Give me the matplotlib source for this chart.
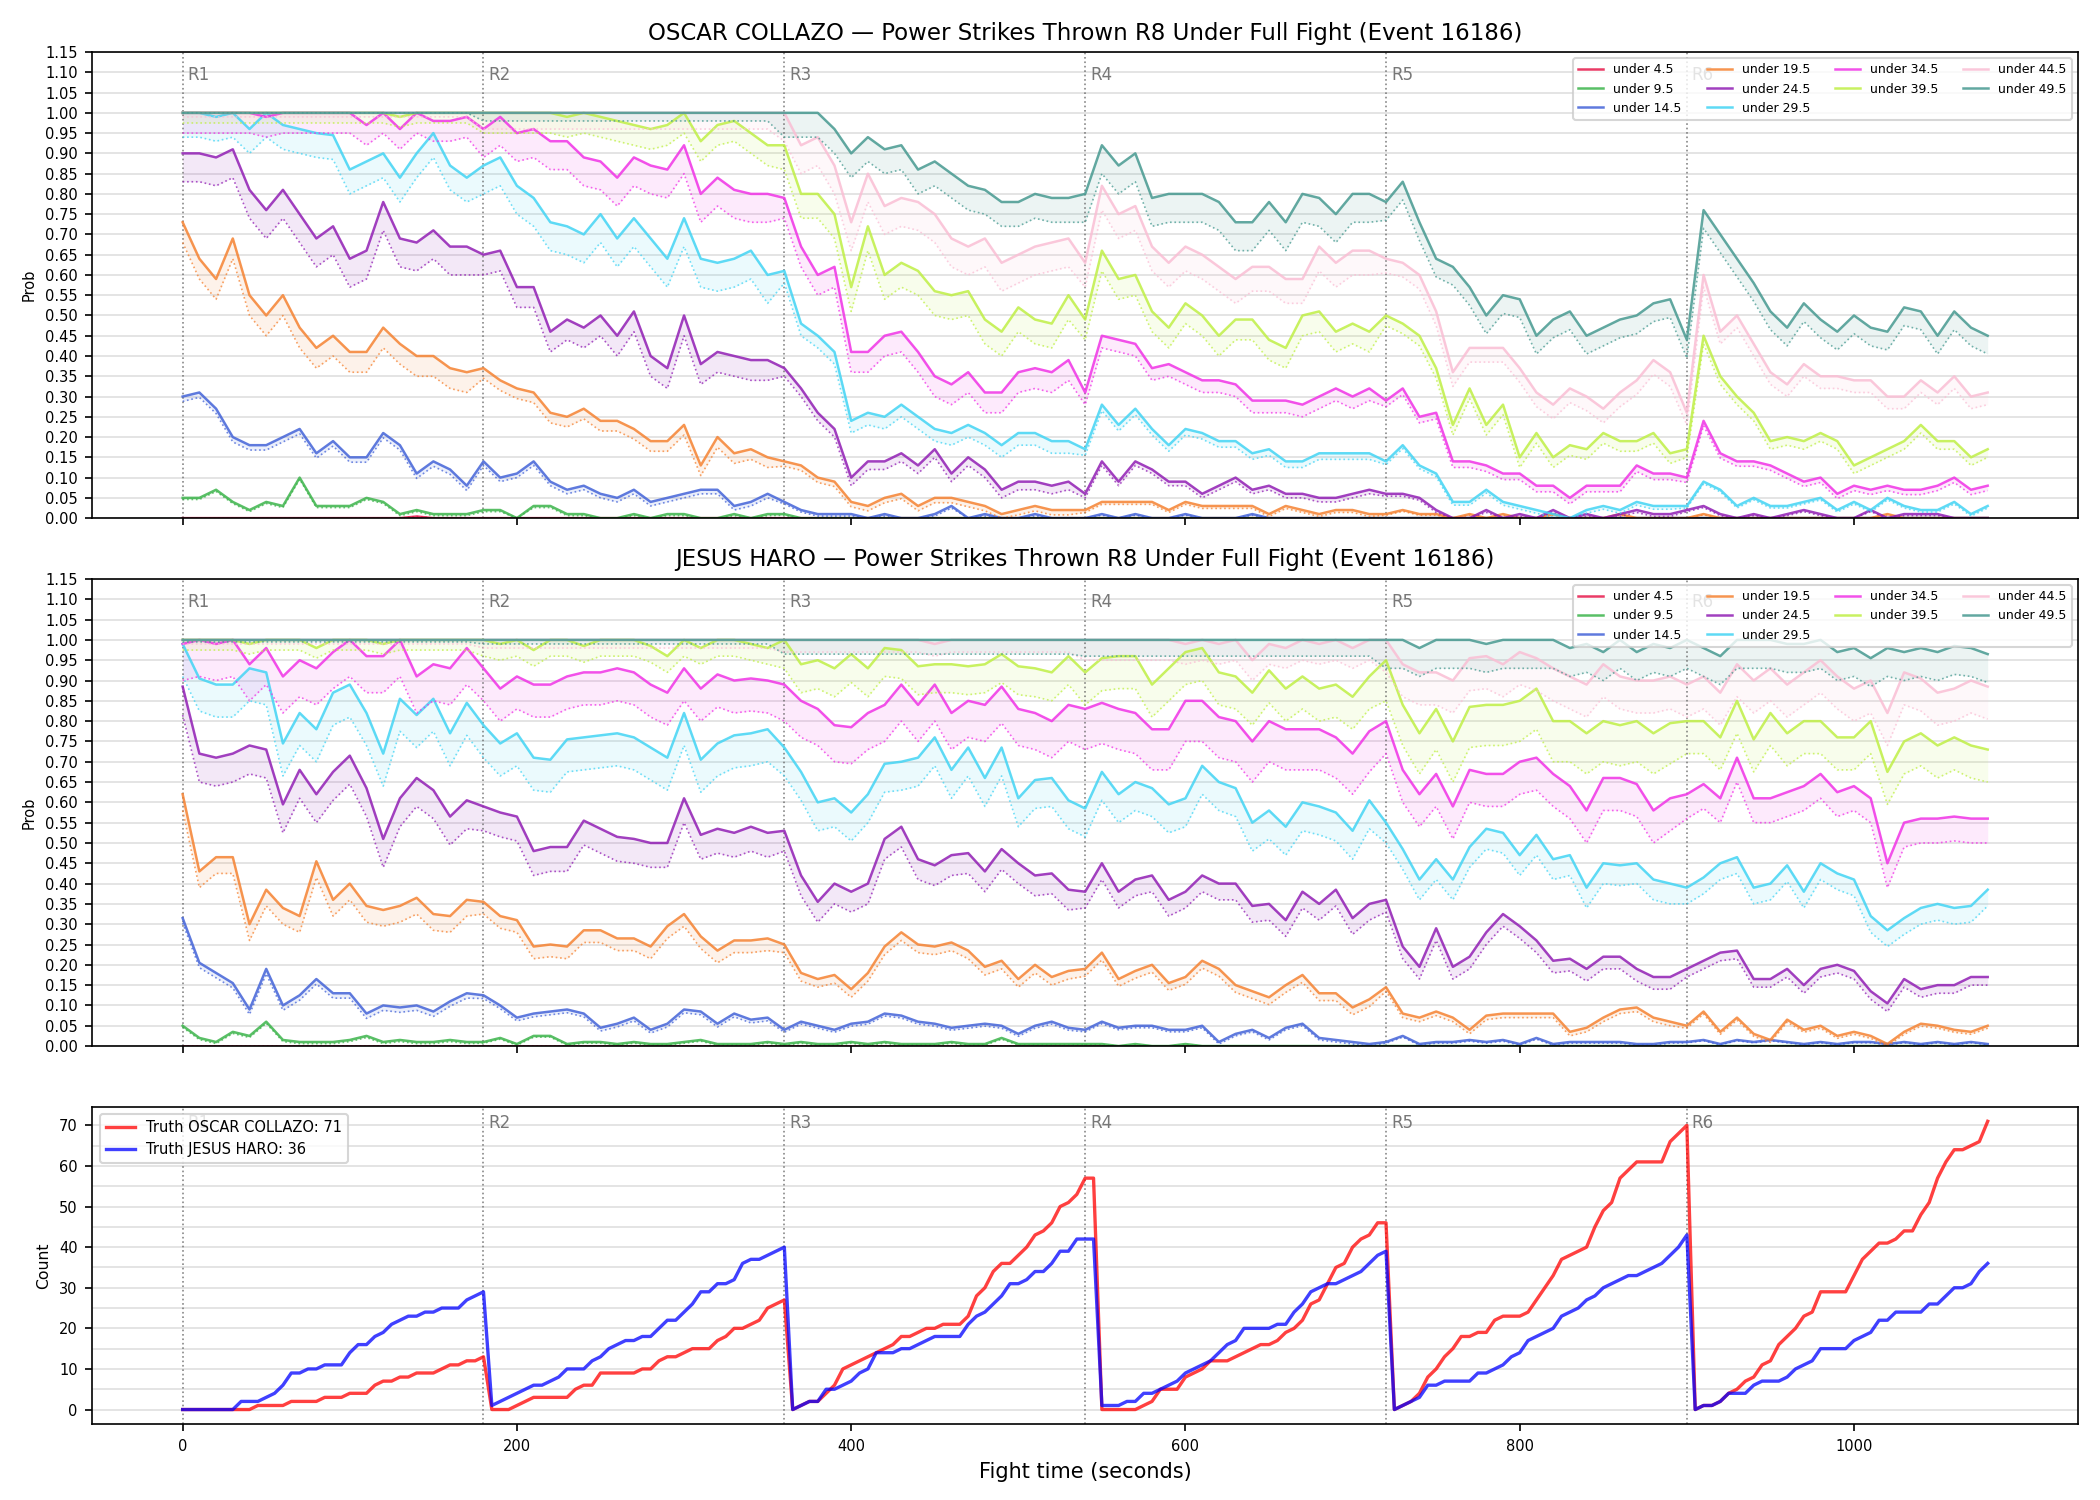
import numpy as np
import matplotlib
matplotlib.use("Agg")
import matplotlib.pyplot as plt
import matplotlib.transforms as mtransforms
from matplotlib.ticker import MultipleLocator, FormatStrFormatter

# ------------------------------------------------------------------ data
prob_time = list(range(0, 1081, 10))      # sample every 10 s
count_time = list(range(0, 1081, 5))      # sample every 5 s
round_starts = [0, 180, 360, 540, 720, 900]
round_names = ["R1", "R2", "R3", "R4", "R5", "R6"]
thresholds = ["under 4.5", "under 9.5", "under 14.5", "under 19.5", "under 24.5",
              "under 29.5", "under 34.5", "under 39.5", "under 44.5", "under 49.5"]
threshold_colors = ["#e6194b", "#3cb44b", "#4363d8", "#f58231", "#911eb4",
                    "#42d4f4", "#f032e6", "#bfef45", "#fabed4", "#469990"]

# ---- OSCAR COLLAZO probabilities (rows = rounds R1..R6, last value t=1080)
c_under_4_5 = [
    0, 0, 0, 0, 0, 0, 0, 0, 0, 0, 0, 0, 0, 0, 0.004, 0, 0, 0,
    0, 0, 0, 0, 0, 0, 0, 0, 0, 0, 0, 0, 0, 0, 0, 0, 0, 0,
    0, 0, 0, 0, 0, 0, 0, 0, 0, 0, 0, 0, 0, 0, 0, 0, 0, 0,
    0, 0, 0, 0, 0, 0, 0, 0, 0, 0, 0, 0, 0, 0, 0, 0, 0, 0,
    0, 0, 0, 0, 0, 0, 0, 0, 0, 0, 0, 0, 0, 0, 0, 0, 0, 0,
    0, 0, 0, 0, 0, 0, 0, 0, 0, 0, 0, 0, 0, 0, 0, 0, 0, 0,
    0]
c_under_9_5 = [
    0.05, 0.05, 0.07, 0.04, 0.02, 0.04, 0.03, 0.10, 0.03, 0.03, 0.03, 0.05, 0.04, 0.01, 0.02, 0.01, 0.01, 0.01,
    0.02, 0.02, 0.00, 0.03, 0.03, 0.01, 0.01, 0.00, 0.00, 0.01, 0.00, 0.01, 0.01, 0.00, 0.00, 0.01, 0.00, 0.01,
    0.01, 0.00, 0.00, 0.00, 0.00, 0.00, 0.00, 0.00, 0.00, 0.00, 0.00, 0.00, 0.00, 0.00, 0.00, 0.00, 0.00, 0.00,
    0, 0, 0, 0, 0, 0, 0, 0, 0, 0, 0, 0, 0, 0, 0, 0, 0, 0,
    0, 0, 0, 0, 0, 0, 0, 0, 0, 0, 0, 0, 0, 0, 0, 0, 0, 0,
    0, 0, 0, 0, 0, 0, 0, 0, 0, 0, 0, 0, 0, 0, 0, 0, 0, 0,
    0]
c_under_14_5 = [
    0.30, 0.31, 0.27, 0.20, 0.18, 0.18, 0.20, 0.22, 0.16, 0.19, 0.15, 0.15, 0.21, 0.18, 0.11, 0.14, 0.12, 0.08,
    0.14, 0.10, 0.11, 0.14, 0.09, 0.07, 0.08, 0.06, 0.05, 0.07, 0.04, 0.05, 0.06, 0.07, 0.07, 0.03, 0.04, 0.06,
    0.04, 0.02, 0.01, 0.01, 0.01, 0.00, 0.01, 0.00, 0.00, 0.01, 0.03, 0.00, 0.01, 0.00, 0.00, 0.01, 0.00, 0.00,
    0.00, 0.01, 0.00, 0.01, 0.00, 0.00, 0.01, 0.00, 0.00, 0.00, 0.01, 0.00, 0.00, 0.00, 0.00, 0.00, 0.00, 0.00,
    0, 0, 0, 0, 0, 0, 0, 0, 0, 0, 0, 0, 0, 0, 0, 0, 0, 0,
    0, 0, 0, 0, 0, 0, 0, 0, 0, 0, 0, 0, 0, 0, 0, 0, 0, 0,
    0]
c_under_19_5 = [
    0.73, 0.64, 0.59, 0.69, 0.55, 0.50, 0.55, 0.47, 0.42, 0.45, 0.41, 0.41, 0.47, 0.43, 0.40, 0.40, 0.37, 0.36,
    0.37, 0.34, 0.32, 0.31, 0.26, 0.25, 0.27, 0.24, 0.24, 0.22, 0.19, 0.19, 0.23, 0.13, 0.20, 0.16, 0.17, 0.15,
    0.14, 0.13, 0.10, 0.09, 0.04, 0.03, 0.05, 0.06, 0.03, 0.05, 0.05, 0.04, 0.03, 0.01, 0.02, 0.03, 0.02, 0.02,
    0.02, 0.04, 0.04, 0.04, 0.04, 0.02, 0.04, 0.03, 0.03, 0.03, 0.03, 0.01, 0.03, 0.02, 0.01, 0.02, 0.02, 0.01,
    0.01, 0.02, 0.01, 0.01, 0.00, 0.01, 0.00, 0.01, 0.00, 0.00, 0.01, 0.00, 0.00, 0.00, 0.01, 0.00, 0.00, 0.00,
    0.00, 0.01, 0.00, 0.00, 0.00, 0.00, 0.00, 0.00, 0.00, 0.00, 0.00, 0.00, 0.01, 0.00, 0.00, 0.00, 0.00, 0.00,
    0.00]
c_under_24_5 = [
    0.90, 0.90, 0.89, 0.91, 0.81, 0.76, 0.81, 0.75, 0.69, 0.72, 0.64, 0.66, 0.78, 0.69, 0.68, 0.71, 0.67, 0.67,
    0.65, 0.66, 0.57, 0.57, 0.46, 0.49, 0.47, 0.50, 0.45, 0.51, 0.40, 0.37, 0.50, 0.38, 0.41, 0.40, 0.39, 0.39,
    0.37, 0.32, 0.26, 0.22, 0.10, 0.14, 0.14, 0.16, 0.13, 0.17, 0.11, 0.15, 0.12, 0.07, 0.09, 0.09, 0.08, 0.09,
    0.06, 0.14, 0.09, 0.14, 0.12, 0.09, 0.09, 0.06, 0.08, 0.10, 0.07, 0.08, 0.06, 0.06, 0.05, 0.05, 0.06, 0.07,
    0.06, 0.06, 0.05, 0.02, 0.00, 0.00, 0.02, 0.00, 0.01, 0.00, 0.02, 0.00, 0.01, 0.00, 0.01, 0.02, 0.01, 0.01,
    0.02, 0.03, 0.01, 0.00, 0.01, 0.00, 0.01, 0.02, 0.01, 0.00, 0.00, 0.02, 0.00, 0.01, 0.01, 0.01, 0.00, 0.00,
    0.00]
c_under_29_5 = [
    1.00, 1.00, 0.99, 1.00, 0.96, 1.00, 0.97, 0.96, 0.95, 0.945, 0.86, 0.88, 0.90, 0.84, 0.90, 0.95, 0.87, 0.84,
    0.87, 0.89, 0.82, 0.79, 0.73, 0.72, 0.70, 0.75, 0.69, 0.74, 0.69, 0.64, 0.74, 0.64, 0.63, 0.64, 0.66, 0.60,
    0.61, 0.48, 0.45, 0.41, 0.24, 0.26, 0.25, 0.28, 0.25, 0.22, 0.21, 0.23, 0.21, 0.18, 0.21, 0.21, 0.19, 0.19,
    0.17, 0.28, 0.23, 0.27, 0.22, 0.18, 0.22, 0.21, 0.19, 0.19, 0.16, 0.17, 0.14, 0.14, 0.16, 0.16, 0.16, 0.16,
    0.14, 0.18, 0.13, 0.11, 0.04, 0.04, 0.07, 0.04, 0.03, 0.02, 0.01, 0.00, 0.02, 0.03, 0.02, 0.04, 0.03, 0.03,
    0.03, 0.09, 0.07, 0.03, 0.05, 0.03, 0.03, 0.04, 0.05, 0.02, 0.04, 0.02, 0.05, 0.03, 0.02, 0.02, 0.04, 0.01,
    0.03]
c_under_34_5 = [
    1.00, 1.00, 1.00, 1.00, 1.00, 0.99, 1.00, 1.00, 1.00, 1.00, 1.00, 0.97, 1.00, 0.96, 1.00, 0.98, 0.98, 0.99,
    0.96, 0.99, 0.95, 0.96, 0.93, 0.93, 0.89, 0.88, 0.84, 0.89, 0.87, 0.86, 0.92, 0.80, 0.84, 0.81, 0.80, 0.80,
    0.79, 0.67, 0.60, 0.62, 0.41, 0.41, 0.45, 0.46, 0.41, 0.35, 0.33, 0.36, 0.31, 0.31, 0.36, 0.37, 0.36, 0.39,
    0.31, 0.45, 0.44, 0.43, 0.37, 0.38, 0.36, 0.34, 0.34, 0.33, 0.29, 0.29, 0.29, 0.28, 0.30, 0.32, 0.30, 0.32,
    0.29, 0.32, 0.25, 0.26, 0.14, 0.14, 0.13, 0.11, 0.11, 0.08, 0.08, 0.05, 0.08, 0.08, 0.08, 0.13, 0.11, 0.11,
    0.10, 0.24, 0.16, 0.14, 0.14, 0.13, 0.11, 0.09, 0.10, 0.06, 0.08, 0.07, 0.08, 0.07, 0.07, 0.08, 0.10, 0.07,
    0.08]
c_under_39_5 = [
    1.00, 1.00, 1.00, 1.00, 1.00, 1.00, 1.00, 1.00, 1.00, 1.00, 1.00, 1.00, 1.00, 0.99, 1.00, 1.00, 1.00, 1.00,
    1.00, 1.00, 1.00, 1.00, 1.00, 0.99, 1.00, 0.99, 0.98, 0.97, 0.96, 0.97, 1.00, 0.93, 0.97, 0.98, 0.95, 0.92,
    0.92, 0.80, 0.80, 0.75, 0.57, 0.72, 0.60, 0.63, 0.61, 0.56, 0.55, 0.56, 0.49, 0.46, 0.52, 0.49, 0.48, 0.55,
    0.49, 0.66, 0.59, 0.60, 0.51, 0.47, 0.53, 0.50, 0.45, 0.49, 0.49, 0.44, 0.42, 0.50, 0.51, 0.46, 0.48, 0.46,
    0.50, 0.48, 0.45, 0.37, 0.23, 0.32, 0.23, 0.28, 0.15, 0.21, 0.15, 0.18, 0.17, 0.21, 0.19, 0.19, 0.21, 0.16,
    0.17, 0.45, 0.35, 0.30, 0.26, 0.19, 0.20, 0.19, 0.21, 0.19, 0.13, 0.15, 0.17, 0.19, 0.23, 0.19, 0.19, 0.15,
    0.17]
c_under_44_5 = [
    1.00, 1.00, 1.00, 1.00, 1.00, 1.00, 1.00, 1.00, 1.00, 1.00, 1.00, 1.00, 1.00, 1.00, 1.00, 1.00, 1.00, 1.00,
    1.00, 1.00, 1.00, 1.00, 1.00, 1.00, 1.00, 1.00, 1.00, 1.00, 1.00, 1.00, 1.00, 1.00, 1.00, 1.00, 1.00, 1.00,
    1.00, 0.92, 0.94, 0.87, 0.73, 0.85, 0.77, 0.79, 0.78, 0.75, 0.69, 0.67, 0.69, 0.63, 0.65, 0.67, 0.68, 0.69,
    0.63, 0.82, 0.75, 0.77, 0.67, 0.63, 0.67, 0.65, 0.62, 0.59, 0.62, 0.62, 0.59, 0.59, 0.67, 0.63, 0.66, 0.66,
    0.64, 0.63, 0.60, 0.51, 0.36, 0.42, 0.42, 0.42, 0.37, 0.31, 0.28, 0.32, 0.30, 0.27, 0.31, 0.34, 0.39, 0.36,
    0.26, 0.60, 0.46, 0.50, 0.43, 0.36, 0.33, 0.38, 0.35, 0.35, 0.34, 0.34, 0.30, 0.30, 0.34, 0.31, 0.35, 0.30,
    0.31]
c_under_49_5 = [
    1.00, 1.00, 1.00, 1.00, 1.00, 1.00, 1.00, 1.00, 1.00, 1.00, 1.00, 1.00, 1.00, 1.00, 1.00, 1.00, 1.00, 1.00,
    1.00, 1.00, 1.00, 1.00, 1.00, 1.00, 1.00, 1.00, 1.00, 1.00, 1.00, 1.00, 1.00, 1.00, 1.00, 1.00, 1.00, 1.00,
    1.00, 1.00, 1.00, 0.96, 0.90, 0.94, 0.91, 0.92, 0.86, 0.88, 0.85, 0.82, 0.81, 0.78, 0.78, 0.80, 0.79, 0.79,
    0.80, 0.92, 0.87, 0.90, 0.79, 0.80, 0.80, 0.80, 0.78, 0.73, 0.73, 0.78, 0.73, 0.80, 0.79, 0.75, 0.80, 0.80,
    0.78, 0.83, 0.73, 0.64, 0.62, 0.57, 0.50, 0.55, 0.54, 0.45, 0.49, 0.51, 0.45, 0.47, 0.49, 0.50, 0.53, 0.54,
    0.44, 0.76, 0.70, 0.64, 0.58, 0.51, 0.47, 0.53, 0.49, 0.46, 0.50, 0.47, 0.46, 0.52, 0.51, 0.45, 0.51, 0.47,
    0.45]

# ---- JESUS HARO probabilities
h_under_4_5 = [
    0, 0, 0, 0, 0, 0, 0, 0, 0, 0, 0, 0, 0, 0, 0, 0, 0, 0,
    0, 0, 0, 0, 0, 0, 0, 0, 0, 0, 0, 0, 0, 0, 0, 0, 0, 0,
    0, 0, 0, 0, 0, 0, 0, 0, 0, 0, 0, 0, 0, 0, 0, 0, 0, 0,
    0, 0, 0, 0, 0, 0, 0, 0, 0, 0, 0, 0, 0, 0, 0, 0, 0, 0,
    0, 0, 0, 0, 0, 0, 0, 0, 0, 0, 0, 0, 0, 0, 0, 0, 0, 0,
    0, 0, 0, 0, 0, 0, 0, 0, 0, 0, 0, 0, 0, 0, 0, 0, 0, 0,
    0]
h_under_9_5 = [
    0.05, 0.02, 0.01, 0.035, 0.025, 0.06, 0.015, 0.01, 0.01, 0.01, 0.015, 0.025, 0.01, 0.015, 0.01, 0.01, 0.015, 0.01,
    0.01, 0.02, 0.005, 0.025, 0.025, 0.005, 0.01, 0.01, 0.005, 0.01, 0.005, 0.005, 0.01, 0.015, 0.005, 0.005, 0.005, 0.01,
    0.005, 0.01, 0.005, 0.005, 0.01, 0.005, 0.01, 0.005, 0.005, 0.005, 0.01, 0.005, 0.005, 0.02, 0.005, 0.005, 0.005, 0.005,
    0.005, 0.005, 0, 0.005, 0, 0, 0.005, 0, 0, 0, 0, 0, 0, 0, 0, 0, 0, 0,
    0, 0, 0, 0, 0, 0, 0, 0, 0, 0, 0, 0, 0, 0, 0, 0, 0, 0,
    0, 0, 0, 0, 0, 0, 0, 0, 0, 0, 0, 0, 0, 0, 0, 0, 0, 0,
    0]
h_under_14_5 = [
    0.315, 0.205, 0.18, 0.155, 0.09, 0.19, 0.10, 0.125, 0.165, 0.13, 0.13, 0.08, 0.10, 0.095, 0.10, 0.085, 0.11, 0.13,
    0.125, 0.10, 0.07, 0.08, 0.085, 0.09, 0.08, 0.045, 0.055, 0.07, 0.04, 0.055, 0.09, 0.085, 0.055, 0.08, 0.065, 0.07,
    0.04, 0.06, 0.05, 0.04, 0.055, 0.06, 0.08, 0.075, 0.06, 0.055, 0.045, 0.05, 0.055, 0.05, 0.03, 0.05, 0.06, 0.045,
    0.04, 0.06, 0.045, 0.05, 0.05, 0.04, 0.04, 0.05, 0.01, 0.03, 0.04, 0.02, 0.045, 0.055, 0.02, 0.015, 0.01, 0.005,
    0.01, 0.025, 0.005, 0.01, 0.01, 0.015, 0.01, 0.015, 0.005, 0.02, 0.005, 0.01, 0.01, 0.01, 0.01, 0.005, 0.005, 0.01,
    0.01, 0.015, 0.005, 0.015, 0.01, 0.015, 0.01, 0.005, 0.01, 0.005, 0.01, 0.01, 0.005, 0.01, 0.005, 0.01, 0.005, 0.01,
    0.005]
h_under_19_5 = [
    0.62, 0.43, 0.465, 0.465, 0.30, 0.385, 0.34, 0.32, 0.455, 0.36, 0.40, 0.345, 0.335, 0.345, 0.365, 0.325, 0.32, 0.36,
    0.355, 0.32, 0.31, 0.245, 0.25, 0.245, 0.285, 0.285, 0.265, 0.265, 0.245, 0.295, 0.325, 0.27, 0.235, 0.26, 0.26, 0.265,
    0.25, 0.18, 0.165, 0.175, 0.14, 0.18, 0.245, 0.28, 0.25, 0.245, 0.255, 0.235, 0.195, 0.21, 0.165, 0.20, 0.17, 0.185,
    0.19, 0.23, 0.165, 0.185, 0.20, 0.155, 0.17, 0.21, 0.19, 0.15, 0.135, 0.12, 0.15, 0.175, 0.13, 0.13, 0.095, 0.115,
    0.145, 0.08, 0.07, 0.085, 0.07, 0.04, 0.075, 0.08, 0.08, 0.08, 0.08, 0.035, 0.045, 0.07, 0.09, 0.095, 0.07, 0.06,
    0.05, 0.085, 0.035, 0.07, 0.03, 0.015, 0.065, 0.04, 0.05, 0.025, 0.035, 0.025, 0.005, 0.035, 0.055, 0.05, 0.04, 0.035,
    0.05]
h_under_24_5 = [
    0.885, 0.72, 0.71, 0.72, 0.74, 0.73, 0.595, 0.68, 0.62, 0.675, 0.715, 0.635, 0.51, 0.61, 0.66, 0.63, 0.565, 0.605,
    0.59, 0.575, 0.565, 0.48, 0.49, 0.49, 0.555, 0.535, 0.515, 0.51, 0.50, 0.50, 0.61, 0.52, 0.535, 0.525, 0.54, 0.525,
    0.53, 0.42, 0.355, 0.40, 0.38, 0.40, 0.51, 0.54, 0.46, 0.445, 0.47, 0.475, 0.43, 0.485, 0.45, 0.42, 0.425, 0.385,
    0.38, 0.45, 0.38, 0.41, 0.42, 0.36, 0.38, 0.42, 0.40, 0.40, 0.345, 0.35, 0.31, 0.38, 0.35, 0.385, 0.315, 0.35,
    0.36, 0.245, 0.195, 0.29, 0.195, 0.22, 0.28, 0.325, 0.295, 0.26, 0.21, 0.215, 0.19, 0.22, 0.22, 0.19, 0.17, 0.17,
    0.19, 0.21, 0.23, 0.235, 0.165, 0.165, 0.19, 0.15, 0.19, 0.20, 0.185, 0.135, 0.105, 0.165, 0.14, 0.15, 0.15, 0.17,
    0.17]
h_under_29_5 = [
    0.99, 0.905, 0.89, 0.89, 0.93, 0.92, 0.745, 0.82, 0.78, 0.87, 0.89, 0.82, 0.72, 0.855, 0.815, 0.855, 0.77, 0.845,
    0.79, 0.745, 0.77, 0.71, 0.705, 0.755, 0.76, 0.765, 0.77, 0.76, 0.735, 0.71, 0.82, 0.705, 0.745, 0.765, 0.77, 0.78,
    0.735, 0.675, 0.60, 0.61, 0.575, 0.62, 0.695, 0.70, 0.71, 0.76, 0.68, 0.735, 0.66, 0.735, 0.61, 0.655, 0.66, 0.605,
    0.585, 0.675, 0.62, 0.65, 0.635, 0.595, 0.61, 0.69, 0.65, 0.635, 0.55, 0.58, 0.54, 0.60, 0.59, 0.575, 0.53, 0.605,
    0.55, 0.485, 0.41, 0.46, 0.41, 0.49, 0.535, 0.525, 0.47, 0.52, 0.46, 0.47, 0.39, 0.45, 0.445, 0.45, 0.41, 0.40,
    0.39, 0.415, 0.45, 0.465, 0.39, 0.40, 0.445, 0.38, 0.45, 0.425, 0.41, 0.32, 0.285, 0.315, 0.34, 0.35, 0.34, 0.345,
    0.385]
h_under_34_5 = [
    0.99, 1.00, 0.99, 1.00, 0.94, 0.98, 0.91, 0.95, 0.93, 0.97, 1.00, 0.96, 0.96, 1.00, 0.91, 0.94, 0.93, 0.98,
    0.93, 0.88, 0.91, 0.89, 0.89, 0.91, 0.92, 0.92, 0.93, 0.92, 0.89, 0.87, 0.93, 0.88, 0.915, 0.90, 0.905, 0.90,
    0.89, 0.85, 0.83, 0.79, 0.785, 0.82, 0.84, 0.89, 0.84, 0.89, 0.82, 0.85, 0.84, 0.885, 0.83, 0.82, 0.80, 0.84,
    0.83, 0.845, 0.83, 0.82, 0.78, 0.78, 0.85, 0.85, 0.81, 0.80, 0.75, 0.80, 0.78, 0.78, 0.78, 0.76, 0.72, 0.775,
    0.80, 0.68, 0.62, 0.67, 0.59, 0.68, 0.67, 0.67, 0.70, 0.71, 0.67, 0.64, 0.58, 0.66, 0.66, 0.645, 0.58, 0.61,
    0.62, 0.645, 0.61, 0.71, 0.61, 0.61, 0.625, 0.64, 0.67, 0.625, 0.64, 0.61, 0.45, 0.55, 0.56, 0.56, 0.565, 0.56,
    0.56]
h_under_39_5 = [
    1.00, 1.00, 1.00, 1.00, 0.99, 1.00, 1.00, 1.00, 0.98, 1.00, 1.00, 1.00, 0.99, 1.00, 1.00, 1.00, 1.00, 1.00,
    1.00, 0.99, 1.00, 0.975, 1.00, 1.00, 0.985, 1.00, 1.00, 1.00, 0.985, 0.96, 1.00, 0.98, 1.00, 1.00, 0.99, 0.98,
    1.00, 0.94, 0.95, 0.93, 0.965, 0.93, 0.98, 0.975, 0.935, 0.94, 0.94, 0.935, 0.94, 0.965, 0.935, 0.93, 0.92, 0.96,
    0.92, 0.955, 0.96, 0.96, 0.89, 0.93, 0.97, 0.98, 0.92, 0.91, 0.87, 0.925, 0.88, 0.91, 0.88, 0.89, 0.86, 0.91,
    0.95, 0.84, 0.77, 0.83, 0.75, 0.835, 0.84, 0.84, 0.85, 0.88, 0.80, 0.80, 0.77, 0.80, 0.79, 0.80, 0.77, 0.795,
    0.80, 0.80, 0.76, 0.85, 0.755, 0.82, 0.77, 0.80, 0.80, 0.76, 0.76, 0.80, 0.675, 0.75, 0.77, 0.74, 0.76, 0.74,
    0.73]
h_under_44_5 = [
    1.00, 1.00, 1.00, 1.00, 1.00, 1.00, 1.00, 1.00, 1.00, 1.00, 1.00, 1.00, 1.00, 1.00, 1.00, 1.00, 1.00, 1.00,
    1.00, 1.00, 1.00, 1.00, 1.00, 1.00, 1.00, 1.00, 1.00, 1.00, 1.00, 1.00, 1.00, 1.00, 1.00, 1.00, 1.00, 1.00,
    1.00, 1.00, 1.00, 1.00, 1.00, 1.00, 1.00, 1.00, 1.00, 0.99, 1.00, 1.00, 1.00, 1.00, 1.00, 1.00, 1.00, 1.00,
    1.00, 1.00, 1.00, 1.00, 1.00, 1.00, 0.99, 1.00, 0.99, 1.00, 0.95, 0.99, 0.98, 1.00, 0.99, 1.00, 0.98, 1.00,
    1.00, 0.94, 0.92, 0.92, 0.90, 0.955, 0.96, 0.94, 0.97, 0.955, 0.93, 0.91, 0.89, 0.94, 0.91, 0.90, 0.90, 0.91,
    0.89, 0.91, 0.87, 0.94, 0.90, 0.93, 0.89, 0.92, 0.95, 0.91, 0.88, 0.90, 0.82, 0.92, 0.905, 0.87, 0.88, 0.90,
    0.885]
h_under_49_5 = [
    1.00, 1.00, 1.00, 1.00, 1.00, 1.00, 1.00, 1.00, 1.00, 1.00, 1.00, 1.00, 1.00, 1.00, 1.00, 1.00, 1.00, 1.00,
    1.00, 1.00, 1.00, 1.00, 1.00, 1.00, 1.00, 1.00, 1.00, 1.00, 1.00, 1.00, 1.00, 1.00, 1.00, 1.00, 1.00, 1.00,
    1.00, 1.00, 1.00, 1.00, 1.00, 1.00, 1.00, 1.00, 1.00, 1.00, 1.00, 1.00, 1.00, 1.00, 1.00, 1.00, 1.00, 1.00,
    1.00, 1.00, 1.00, 1.00, 1.00, 1.00, 1.00, 1.00, 1.00, 1.00, 1.00, 1.00, 1.00, 1.00, 1.00, 1.00, 1.00, 1.00,
    1.00, 1.00, 0.98, 1.00, 1.00, 1.00, 0.99, 1.00, 1.00, 1.00, 1.00, 0.98, 0.99, 0.97, 1.00, 0.97, 0.99, 0.98,
    1.00, 0.98, 0.96, 1.00, 1.00, 1.00, 0.99, 0.99, 1.00, 0.97, 0.98, 0.955, 0.98, 0.97, 0.98, 0.97, 0.985, 0.98,
    0.965]

# ---- width of the lower (dotted) band below each line, per round R1..R6
c_gap_4_5 = [0, 0, 0, 0, 0, 0]
c_gap_9_5 = [0.004, 0.004, 0.003, 0.002, 0.002, 0.002]
c_gap_14_5 = [0.012, 0.010, 0.005, 0.003, 0.002, 0.002]
c_gap_19_5 = [0.05, 0.025, 0.012, 0.006, 0.003, 0.002]
c_gap_24_5 = [0.07, 0.05, 0.02, 0.01, 0.006, 0.004]
c_gap_29_5 = [0.06, 0.07, 0.03, 0.015, 0.008, 0.005]
c_gap_34_5 = [0.05, 0.07, 0.05, 0.03, 0.015, 0.012]
c_gap_39_5 = [0.025, 0.05, 0.06, 0.05, 0.025, 0.02]
c_gap_44_5 = [0.01, 0.04, 0.07, 0.06, 0.035, 0.03]
c_gap_49_5 = [0.0, 0.02, 0.06, 0.07, 0.045, 0.045]

h_gap_4_5 = [0, 0, 0, 0, 0, 0]
h_gap_9_5 = [0.004, 0.003, 0.003, 0.002, 0.001, 0.001]
h_gap_14_5 = [0.012, 0.008, 0.006, 0.005, 0.003, 0.002]
h_gap_19_5 = [0.04, 0.03, 0.02, 0.018, 0.01, 0.006]
h_gap_24_5 = [0.07, 0.06, 0.05, 0.04, 0.03, 0.02]
h_gap_29_5 = [0.08, 0.08, 0.07, 0.07, 0.05, 0.04]
h_gap_34_5 = [0.09, 0.08, 0.09, 0.10, 0.08, 0.06]
h_gap_39_5 = [0.025, 0.04, 0.07, 0.08, 0.10, 0.08]
h_gap_44_5 = [0.01, 0.02, 0.03, 0.05, 0.08, 0.08]
h_gap_49_5 = [0.005, 0.01, 0.035, 0.04, 0.07, 0.07]

# ---- truth counts (5 s samples)
collazo_count = (
    [0, 0, 0, 0, 0, 0, 0, 0, 0, 1, 1, 1, 1, 2, 2, 2, 2, 3, 3, 3, 4, 4, 4, 6, 7, 7, 8, 8, 9, 9, 9, 10, 11, 11, 12, 12, 13]
    + [0, 0, 0, 1, 2, 3, 3, 3, 3, 3, 5, 6, 6, 9, 9, 9, 9, 9, 10, 10, 12, 13, 13, 14, 15, 15, 15, 17, 18, 20, 20, 21, 22, 25, 26, 27]
    + [0, 1, 2, 2, 4, 6, 10, 11, 12, 13, 14, 15, 16, 18, 18, 19, 20, 20, 21, 21, 21, 23, 28, 30, 34, 36, 36, 38, 40, 43, 44, 46, 50, 51, 53, 57]
    + [57, 0, 0, 0, 0, 0, 1, 2, 5, 5, 5, 8, 9, 10, 12, 12, 12, 13, 14, 15, 16, 16, 17, 19, 20, 22, 26, 27, 31, 35, 36, 40, 42, 43, 46, 46]
    + [0, 1, 2, 4, 8, 10, 13, 15, 18, 18, 19, 19, 22, 23, 23, 23, 24, 27, 30, 33, 37, 38, 39, 40, 45, 49, 51, 57, 59, 61, 61, 61, 61, 66, 68, 70]
    + [0, 1, 1, 2, 4, 5, 7, 8, 11, 12, 16, 18, 20, 23, 24, 29, 29, 29, 29, 33, 37, 39, 41, 41, 42, 44, 44, 48, 51, 57, 61, 64, 64, 65, 66, 71]
)
haro_count = (
    [0, 0, 0, 0, 0, 0, 0, 2, 2, 2, 3, 4, 6, 9, 9, 10, 10, 11, 11, 11, 14, 16, 16, 18, 19, 21, 22, 23, 23, 24, 24, 25, 25, 25, 27, 28, 29]
    + [1, 2, 3, 4, 5, 6, 6, 7, 8, 10, 10, 10, 12, 13, 15, 16, 17, 17, 18, 18, 20, 22, 22, 24, 26, 29, 29, 31, 31, 32, 36, 37, 37, 38, 39, 40]
    + [0, 1, 2, 2, 5, 5, 6, 7, 9, 10, 14, 14, 14, 15, 15, 16, 17, 18, 18, 18, 18, 21, 23, 24, 26, 28, 31, 31, 32, 34, 34, 36, 39, 39, 42, 42]
    + [42, 1, 1, 1, 2, 2, 4, 4, 5, 6, 7, 9, 10, 11, 12, 14, 16, 17, 20, 20, 20, 20, 21, 21, 24, 26, 29, 30, 31, 31, 32, 33, 34, 36, 38, 39]
    + [0, 1, 2, 3, 6, 6, 7, 7, 7, 7, 9, 9, 10, 11, 13, 14, 17, 18, 19, 20, 23, 24, 25, 27, 28, 30, 31, 32, 33, 33, 34, 35, 36, 38, 40, 43]
    + [0, 1, 1, 2, 4, 4, 4, 6, 7, 7, 7, 8, 10, 11, 12, 15, 15, 15, 15, 17, 18, 19, 22, 22, 24, 24, 24, 24, 26, 26, 28, 30, 30, 31, 34, 36]
)

collazo_series = [c_under_4_5, c_under_9_5, c_under_14_5, c_under_19_5, c_under_24_5,
                  c_under_29_5, c_under_34_5, c_under_39_5, c_under_44_5, c_under_49_5]
collazo_gaps = [c_gap_4_5, c_gap_9_5, c_gap_14_5, c_gap_19_5, c_gap_24_5,
                c_gap_29_5, c_gap_34_5, c_gap_39_5, c_gap_44_5, c_gap_49_5]
haro_series = [h_under_4_5, h_under_9_5, h_under_14_5, h_under_19_5, h_under_24_5,
               h_under_29_5, h_under_34_5, h_under_39_5, h_under_44_5, h_under_49_5]
haro_gaps = [h_gap_4_5, h_gap_9_5, h_gap_14_5, h_gap_19_5, h_gap_24_5,
             h_gap_29_5, h_gap_34_5, h_gap_39_5, h_gap_44_5, h_gap_49_5]

bad = [(n, i, len(s)) for n, grp in (("c", collazo_series), ("h", haro_series))
       for i, s in enumerate(grp) if len(s) != len(prob_time)]
if bad or len(collazo_count) != len(count_time) or len(haro_count) != len(count_time):
    raise SystemExit(f"length mismatch {bad} {len(collazo_count)} {len(haro_count)}")

# ------------------------------------------------------------------ plot
fig = plt.figure(figsize=(14, 10), dpi=150)
gs = fig.add_gridspec(3, 1, height_ratios=[466, 467, 317], left=0.044, right=0.9895,
                      top=0.9653, bottom=0.0507, hspace=0.146)
ax1 = fig.add_subplot(gs[0])
ax2 = fig.add_subplot(gs[1], sharex=ax1)
ax3 = fig.add_subplot(gs[2], sharex=ax1)

t = np.array(prob_time)


def expand_gap(g):
    return np.array([v for v in g for _ in range(18)] + [g[-1]])


def draw_round_marks(ax):
    trans = mtransforms.blended_transform_factory(ax.transData, ax.transAxes)
    for x, name in zip(round_starts, round_names):
        ax.axvline(x, color="#555555", ls=":", lw=0.8, alpha=0.7, zorder=1)
        ax.text(x + 3, 0.95, name, transform=trans, fontsize=8, color="#777777",
                va="center", ha="left", zorder=1)


def draw_prob_panel(ax, series, gaps, title):
    for label, color, vals, g in zip(thresholds, threshold_colors, series, gaps):
        y = np.array(vals, dtype=float)
        lo = np.clip(y - expand_gap(g), 0, None)
        ax.fill_between(t, lo, y, color=color, alpha=0.1, linewidth=0)
        ax.plot(t, lo, color=color, lw=0.8, ls=":", alpha=0.75)
        ax.plot(t, y, color=color, lw=1.2, alpha=0.85, label=label)
    draw_round_marks(ax)
    ax.set_ylim(0, 1.15)
    ax.yaxis.set_major_locator(MultipleLocator(0.05))
    ax.yaxis.set_major_formatter(FormatStrFormatter("%.2f"))
    ax.grid(axis="y", color="#b0b0b0", alpha=0.4, lw=0.8)
    ax.set_axisbelow(True)
    ax.set_ylabel("Prob", fontsize=7)
    ax.set_title(title, fontsize=11)
    ax.tick_params(labelsize=7)
    plt.setp(ax.get_xticklabels(), visible=False)
    leg = ax.legend(loc="upper right", ncol=4, fontsize=6, framealpha=0.8)
    leg.set_zorder(5)


draw_prob_panel(ax1, collazo_series, collazo_gaps,
                "OSCAR COLLAZO \u2014 Power Strikes Thrown R8 Under Full Fight (Event 16186)")
draw_prob_panel(ax2, haro_series, haro_gaps,
                "JESUS HARO \u2014 Power Strikes Thrown R8 Under Full Fight (Event 16186)")

ct = np.array(count_time)
ax3.plot(ct, collazo_count, color="red", lw=1.6, alpha=0.75,
         label=f"Truth OSCAR COLLAZO: {collazo_count[-1]}")
ax3.plot(ct, haro_count, color="blue", lw=1.6, alpha=0.75,
         label=f"Truth JESUS HARO: {haro_count[-1]}")
draw_round_marks(ax3)
ax3.yaxis.set_minor_locator(MultipleLocator(5))
ax3.grid(axis="y", which="both", color="#b0b0b0", alpha=0.4, lw=0.8)
ax3.tick_params(which="minor", length=0)
ax3.set_axisbelow(True)
ax3.set_ylabel("Count", fontsize=7.5)
ax3.set_xlabel("Fight time (seconds)", fontsize=10)
ax3.tick_params(labelsize=7)
leg3 = ax3.legend(loc="upper left", fontsize=7, framealpha=0.8)
leg3.set_zorder(5)

fig.savefig("out.png", dpi=150)
